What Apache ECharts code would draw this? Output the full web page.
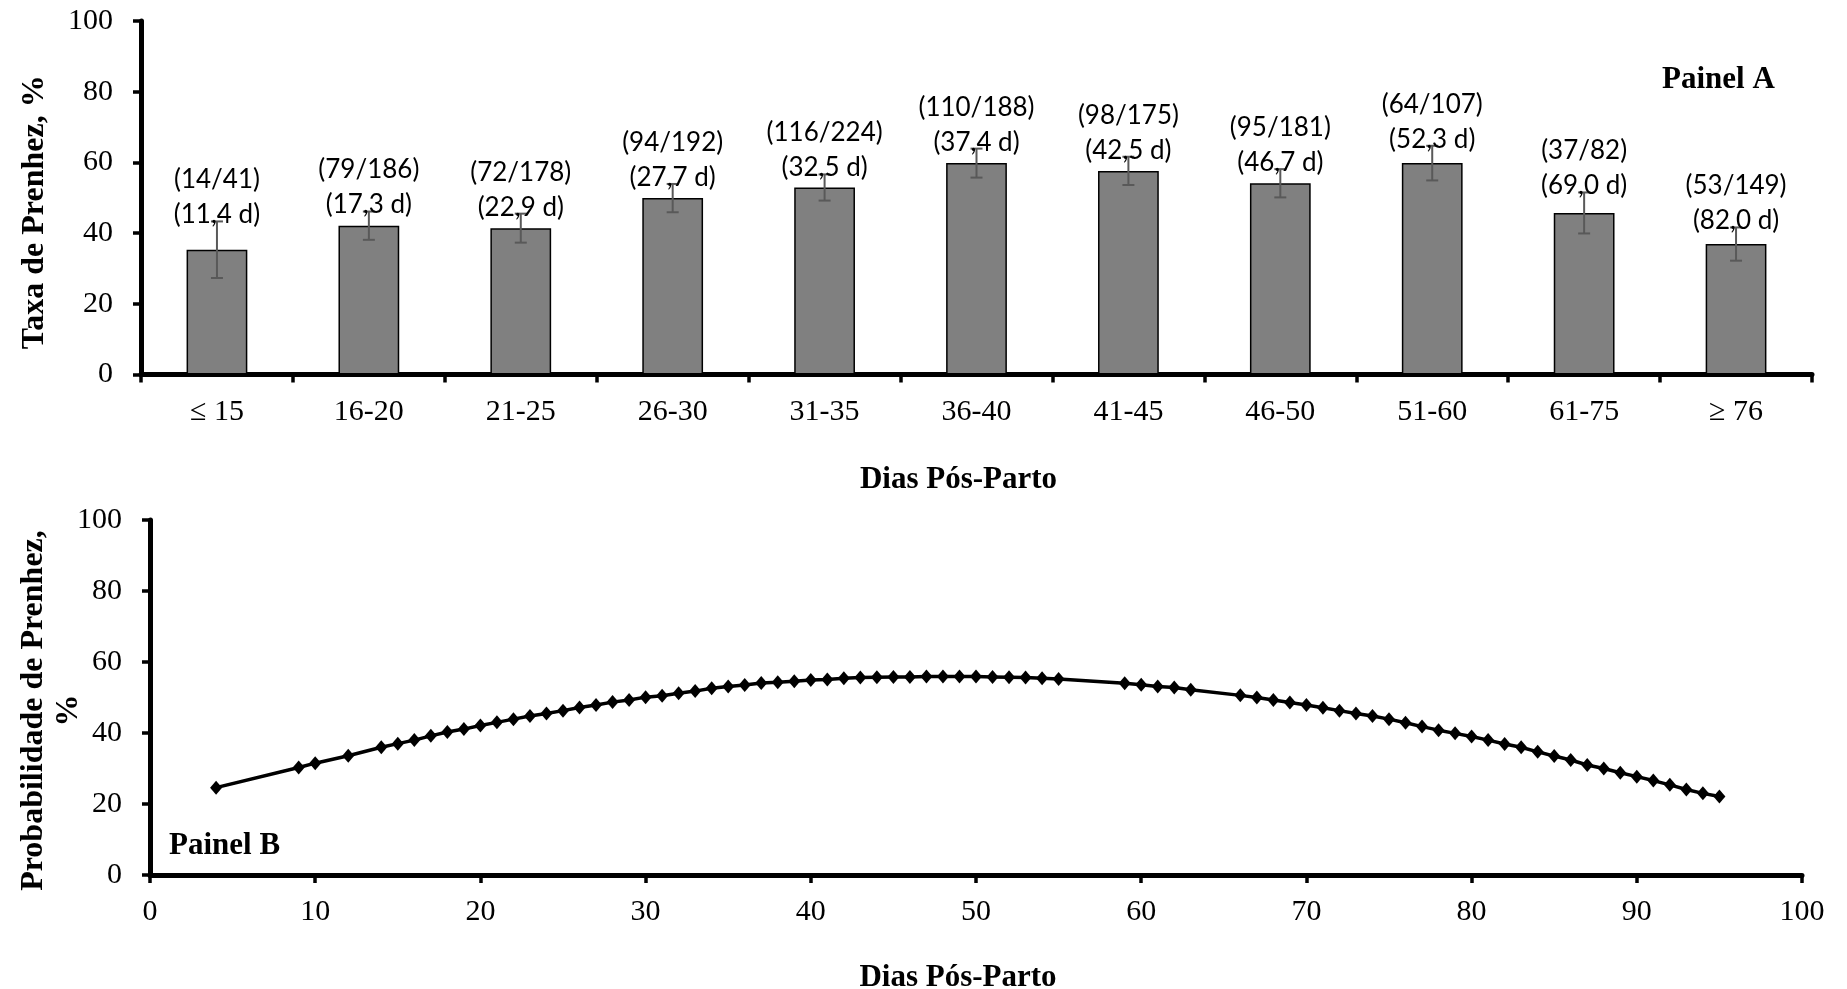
<!DOCTYPE html>
<html>
<head>
<meta charset="utf-8">
<script src="https://cdn.jsdelivr.net/npm/echarts@6/dist/echarts.min.js"></script>
<style>
html,body{margin:0;padding:0;background:#fff;}
#main{width:1847px;height:989px;}
</style>
</head>
<body>
<div id="main"></div>
<script>
// ---- Panel A data ----
const categories = ['≤ 15','16-20','21-25','26-30','31-35','36-40','41-45','46-50','51-60','61-75','≥ 76'];
const pregnancyRate = [35.3, 42.1, 41.4, 49.9, 52.9, 59.8, 57.6, 54.1, 59.8, 45.7, 36.9];
const standardError = [8.0, 4.0, 4.1, 4.0, 3.7, 4.1, 4.0, 4.0, 4.9, 5.8, 4.7];
const countLabels = ['(14/41)','(79/186)','(72/178)','(94/192)','(116/224)','(110/188)','(98/175)','(95/181)','(64/107)','(37/82)','(53/149)'];
const meanDayLabels = ['(11,4 d)','(17,3 d)','(22,9 d)','(27,7 d)','(32,5 d)','(37,4 d)','(42,5 d)','(46,7 d)','(52,3 d)','(69,0 d)','(82,0 d)'];
const yTicksA = [0, 20, 40, 60, 80, 100];

// ---- Panel B data ----
const dayValues = [4, 9, 10, 12, 14, 15, 16, 17, 18, 19, 20, 21, 22, 23, 24, 25, 26, 27, 28, 29, 30,
  31, 32, 33, 34, 35, 36, 37, 38, 39, 40, 41, 42, 43, 44, 45, 46, 47, 48, 49, 50, 51, 52, 53, 54, 55,
  59, 60, 61, 62, 63, 66, 67, 68, 69, 70, 71, 72, 73, 74, 75, 76, 77, 78, 79, 80,
  81, 82, 83, 84, 85, 86, 87, 88, 89, 90, 91, 92, 93, 94, 95];
const probabilityValues = [24.6, 30.3, 31.5, 33.6, 36.0, 37.0, 38.0, 39.2, 40.3, 41.1, 42.1, 43.0, 43.9, 44.8, 45.5, 46.3, 47.2, 47.9, 48.7, 49.3, 50.1,
  50.5, 51.2, 51.8, 52.6, 53.1, 53.5, 54.1, 54.3, 54.6, 54.9, 55.1, 55.4, 55.6, 55.7, 55.8, 55.8, 55.9, 55.9, 55.9, 55.9, 55.8, 55.7, 55.6, 55.4, 55.2,
  54.0, 53.6, 53.1, 52.8, 52.2, 50.6, 50.0, 49.3, 48.6, 47.9, 47.1, 46.3, 45.5, 44.8, 43.9, 42.9, 41.8, 40.8, 39.9, 39.0,
  38.0, 36.9, 36.0, 34.7, 33.5, 32.4, 31.0, 30.0, 28.8, 27.7, 26.6, 25.4, 24.1, 23.0, 22.1];

const SERIF = '"Liberation Serif", "Times New Roman", serif';
const SANS = 'Lato, "Open Sans", sans-serif';

const chart = echarts.init(document.getElementById('main'), null, {renderer: 'canvas'});

const axisLineStyle = {show: true, lineStyle: {color: '#000', width: 5}};
const axisTickStyle = {show: true, inside: false, length: 8, lineStyle: {color: '#000', width: 3.5}};
const tickLabel = {color: '#000', fontFamily: SERIF, fontSize: 30};
const titleText = {color: '#000', fontFamily: SERIF, fontWeight: 'bold', fontSize: 31};

const option = {
  animation: false,
  backgroundColor: '#fff',
  grid: [
    {left: 141, right: 35, top: 21, height: 353.5, containLabel: false, outerBoundsMode: 'none'},
    {left: 150, right: 45, top: 520, height: 355, containLabel: false, outerBoundsMode: 'none'}
  ],
  xAxis: [
    {
      type: 'category', gridIndex: 0, data: categories, boundaryGap: true,
      axisLine: axisLineStyle,
      axisTick: Object.assign({interval: 0, alignWithLabel: false}, axisTickStyle),
      axisLabel: Object.assign({interval: 0, margin: 23}, tickLabel),
      splitLine: {show: false},
      name: 'Dias Pós-Parto', nameLocation: 'middle', nameGap: 90, nameMoveOverlap: false,
      nameTextStyle: Object.assign({padding: [0, 36, 0, 0]}, titleText)
    },
    {
      type: 'value', gridIndex: 1, min: 0, max: 100, interval: 10,
      axisLine: axisLineStyle,
      axisTick: axisTickStyle,
      axisLabel: Object.assign({margin: 22}, tickLabel),
      splitLine: {show: false},
      name: 'Dias Pós-Parto', nameLocation: 'middle', nameGap: 87, nameMoveOverlap: false,
      nameTextStyle: Object.assign({padding: [0, 36, 0, 0]}, titleText)
    }
  ],
  yAxis: [
    {
      type: 'value', gridIndex: 0, min: yTicksA[0], max: yTicksA[yTicksA.length - 1], interval: 20,
      axisLine: axisLineStyle,
      axisTick: axisTickStyle,
      axisLabel: Object.assign({margin: 28}, tickLabel),
      splitLine: {show: false},
      name: 'Taxa de Prenhez, %', nameLocation: 'middle', nameRotate: 90, nameGap: 90, nameMoveOverlap: false,
      nameTextStyle: Object.assign({}, titleText, {fontSize: 32, padding: [0, 29, 0, 0]})
    },
    {
      type: 'value', gridIndex: 1, min: 0, max: 100, interval: 20,
      axisLine: axisLineStyle,
      axisTick: axisTickStyle,
      axisLabel: Object.assign({margin: 28}, tickLabel),
      splitLine: {show: false},
      name: 'Probabilidade de Prenhez,\n%', nameLocation: 'middle', nameRotate: 90, nameGap: 64, nameMoveOverlap: false,
      nameTextStyle: Object.assign({}, titleText, {fontSize: 32, lineHeight: 35, align: 'center', padding: [0, 26, 0, 0]})
    }
  ],
  graphic: [
    {type: 'text', left: 1662, top: 64, style: {text: 'Painel A', font: 'bold 31px ' + SERIF, fill: '#000'}},
    {type: 'text', left: 169, top: 830, style: {text: 'Painel B', font: 'bold 31px ' + SERIF, fill: '#000'}}
  ],
  series: [
    {
      type: 'bar', xAxisIndex: 0, yAxisIndex: 0,
      data: pregnancyRate,
      barWidth: '40%',
      itemStyle: {color: '#808080', borderColor: '#000', borderWidth: 1.5},
      z: 2
    },
    {
      type: 'custom', xAxisIndex: 0, yAxisIndex: 0, z: 3,
      data: pregnancyRate.map((v, i) => [i, v, standardError[i]]),
      renderItem: function (params, api) {
        const i = api.value(0);
        const v = api.value(1);
        const se = api.value(2);
        const top = api.coord([i, v + se]);
        const bot = api.coord([i, v - se]);
        const cap = 6;
        const stroke = {stroke: '#595959', lineWidth: 2};
        const k = params.dataIndex;
        return {
          type: 'group',
          children: [
            {type: 'line', shape: {x1: top[0], y1: top[1], x2: bot[0], y2: bot[1]}, style: stroke},
            {type: 'line', shape: {x1: top[0] - cap, y1: top[1], x2: top[0] + cap, y2: top[1]}, style: stroke},
            {type: 'line', shape: {x1: bot[0] - cap, y1: bot[1], x2: bot[0] + cap, y2: bot[1]}, style: stroke},
            {
              type: 'text',
              style: {
                x: top[0], y: top[1] + 11,
                text: countLabels[k] + '\n' + meanDayLabels[k],
                align: 'center', verticalAlign: 'bottom',
                font: '26px ' + SANS, lineHeight: 35, fill: '#000'
              }
            }
          ]
        };
      }
    },
    {
      type: 'line', xAxisIndex: 1, yAxisIndex: 1,
      data: dayValues.map((d, i) => [d, probabilityValues[i]]),
      symbol: 'diamond', symbolSize: [12, 14], showAllSymbol: true,
      lineStyle: {color: '#000', width: 3.5},
      itemStyle: {color: '#000'},
      z: 3
    }
  ]
};
chart.setOption(option);
</script>
</body>
</html>
